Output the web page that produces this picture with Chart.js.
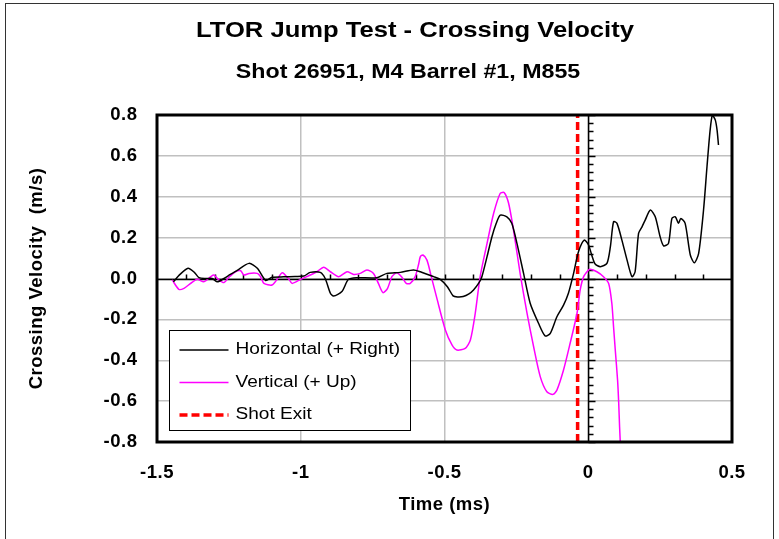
<!DOCTYPE html>
<html>
<head>
<meta charset="utf-8">
<script src="https://cdn.jsdelivr.net/npm/chart.js@4"></script>
<style>
  html, body { margin: 0; padding: 0; background: #fff; }
  #wrap { width: 779px; height: 539px; }
</style>
</head>
<body>
<div id="wrap"><canvas id="chart" width="779" height="539"></canvas></div>
<script>
// Horizontal crossing velocity (+ right)
const hTime = [-1.443, -1.42, -1.392, -1.37, -1.354, -1.33, -1.308, -1.29, -1.267, -1.245, -1.221, -1.18, -1.151, -1.122, -1.1, -1.06, -1.02, -0.989,
  -0.967, -0.932, -0.915, -0.897, -0.886, -0.857, -0.834, -0.805, -0.735, -0.7, -0.654, -0.608, -0.584, -0.538, -0.515, -0.49, -0.47, -0.455,
  -0.435, -0.415, -0.399, -0.381, -0.37, -0.352, -0.335, -0.32, -0.306, -0.283, -0.266, -0.248, -0.225, -0.202, -0.173, -0.15, -0.132, -0.109,
  -0.086, -0.069, -0.051, -0.034, -0.014, 0.001, 0.012, 0.024, 0.042, 0.065, 0.077, 0.088, 0.1, 0.117, 0.135, 0.152, 0.163, 0.175, 0.187, 0.198,
  0.216, 0.233, 0.25, 0.262, 0.279, 0.291, 0.303, 0.314, 0.322, 0.337, 0.355, 0.369, 0.384, 0.401, 0.413, 0.424, 0.432, 0.442, 0.448, 0.453];
const hVel = [-0.016, 0.02, 0.05, 0.03, 0.004, 0.0, 0.0, -0.016, 0.0, 0.02, 0.04, 0.074, 0.05, -0.01, 0.006, 0.008, 0.01, 0.012,
  0.03, 0.03, 0.0, -0.072, -0.086, -0.064, -0.004, 0.004, 0.004, 0.025, 0.03, 0.042, 0.033, 0.009, -0.004, -0.04, -0.085, -0.09,
  -0.088, -0.075, -0.056, -0.023, 0.009, 0.107, 0.204, 0.27, 0.31, 0.302, 0.27, 0.172, 0.025, -0.121, -0.219, -0.281, -0.268, -0.187,
  -0.13, -0.072, 0.025, 0.131, 0.188, 0.164, 0.115, 0.071, 0.058, 0.074, 0.156, 0.278, 0.27, 0.188, 0.09, 0.009, 0.033, 0.221, 0.253, 0.286,
  0.335, 0.302, 0.204, 0.16, 0.172, 0.294, 0.302, 0.27, 0.294, 0.27, 0.115, 0.077, 0.123, 0.335, 0.547, 0.727, 0.8, 0.775, 0.727, 0.653];

// Vertical crossing velocity (+ up)
const vTime = [-1.447, -1.424, -1.406, -1.383, -1.36, -1.337, -1.313, -1.302, -1.285, -1.267, -1.25, -1.227, -1.209, -1.198, -1.18, -1.151, -1.14,
  -1.128, -1.1, -1.08, -1.064, -1.041, -1.03, -1.0, -0.967, -0.944, -0.92, -0.897, -0.868, -0.839, -0.816, -0.793, -0.77, -0.747, -0.73, -0.714,
  -0.698, -0.683, -0.666, -0.648, -0.633, -0.619, -0.602, -0.59, -0.584, -0.575, -0.561, -0.547, -0.526, -0.497, -0.474, -0.457, -0.428, -0.41,
  -0.393, -0.376, -0.352, -0.329, -0.306, -0.292, -0.277, -0.26, -0.237, -0.213, -0.19, -0.167, -0.144, -0.123, -0.109, -0.086, -0.063, -0.039,
  -0.028, -0.016, 0.001, 0.007, 0.03, 0.053, 0.071, 0.082, 0.088, 0.094, 0.102, 0.106, 0.109, 0.113];
const vVel = [-0.007, -0.053, -0.048, -0.024, -0.004, -0.016, 0.009, 0.017, -0.007, -0.02, 0.006, 0.033, 0.038, 0.017, 0.025, 0.025, 0.009,
  -0.024, -0.032, 0.0, 0.028, -0.004, -0.024, -0.004, 0.017, 0.033, 0.055, 0.033, 0.009, 0.033, 0.02, 0.025, 0.042, 0.025, -0.024, -0.069,
  -0.048, 0.009, 0.028, 0.006, -0.024, -0.024, 0.009, 0.07, 0.107, 0.115, 0.09, 0.015, -0.1, -0.252, -0.325, -0.35, -0.342, -0.301,
  -0.17, 0.009, 0.172, 0.319, 0.417, 0.42, 0.368, 0.237, 0.025, -0.17, -0.334, -0.48, -0.554, -0.567, -0.546, -0.448, -0.317, -0.17,
  -0.056, 0.009, 0.042, 0.045, 0.033, 0.009, -0.024, -0.121, -0.236, -0.35, -0.497, -0.611, -0.725, -0.85];

// Muzzle exit time (ms)
const shotExit = -0.037;

const xTicks = [-1.5, -1, -0.5, 0, 0.5];
const yRange = [-0.8, 0.8];

const title = 'LTOR Jump Test - Crossing Velocity';
const subtitle = 'Shot 26951, M4 Barrel #1, M855';

const FONT = "'Liberation Sans', Arial, sans-serif";
const WIDE = 1.19; // text in this chart is drawn a bit wider than normal
const pts = (xs, ys) => xs.map((x, i) => ({ x, y: ys[i] }));

function wideText(ctx, text, x, y, align) {
  ctx.save();
  ctx.translate(x, y);
  ctx.scale(WIDE, 1);
  ctx.textAlign = align;
  ctx.fillText(text, 0, 0);
  ctx.restore();
}

// Excel-style axes crossing at the origin, with minor ticks
const crossAxes = {
  id: 'crossAxes',
  beforeDatasetsDraw(chart) {
    const { ctx, chartArea: a, scales: { x, y } } = chart;
    const x0 = Math.round(x.getPixelForValue(0)) + 0.5, y0 = Math.round(y.getPixelForValue(0)) + 0.5;
    ctx.save();
    ctx.strokeStyle = '#000';
    ctx.lineWidth = 1.5;
    ctx.beginPath();
    ctx.moveTo(a.left, y0); ctx.lineTo(a.right, y0);
    ctx.moveTo(x0, a.top); ctx.lineTo(x0, a.bottom);
    ctx.stroke();
    ctx.beginPath();
    for (let i = -20; i <= 20; i++) {
      const py = Math.round(y.getPixelForValue(i * 0.04)) + 0.5;
      ctx.moveTo(x0, py); ctx.lineTo(x0 + (i % 5 === 0 ? 7 : 5), py);
    }
    for (let i = -14; i <= 4; i++) {
      const px = Math.round(x.getPixelForValue(i * 0.1)) + 0.5;
      ctx.moveTo(px, y0); ctx.lineTo(px, y0 - 5);
    }
    ctx.stroke();
    ctx.restore();
  },
  afterDatasetsDraw(chart) {
    const { ctx, chartArea: a } = chart;
    ctx.save();
    ctx.strokeStyle = '#000';
    ctx.lineWidth = 3;
    ctx.strokeRect(a.left, a.top, a.right - a.left, a.bottom - a.top);
    ctx.restore();
  }
};

// boxed legend inside the plot, lower left
const boxLegend = {
  id: 'boxLegend',
  afterDraw(chart) {
    const { ctx, chartArea: a } = chart;
    const bx = a.left + 12.5, by = a.top + 215.5, bw = 241, bh = 100;
    ctx.save();
    ctx.letterSpacing = '0px';
    ctx.fillStyle = '#fff';
    ctx.fillRect(bx, by, bw, bh);
    ctx.strokeStyle = '#000';
    ctx.lineWidth = 1;
    ctx.strokeRect(bx, by, bw, bh);
    ctx.font = '16px ' + FONT;
    ctx.textBaseline = 'middle';
    chart.data.datasets.forEach((ds, i) => {
      const ry = by + 19.5 + i * 32.5;
      ctx.strokeStyle = ds.borderColor;
      ctx.lineWidth = ds.borderWidth;
      ctx.setLineDash(ds.borderDash || []);
      ctx.beginPath();
      ctx.moveTo(bx + 10, ry); ctx.lineTo(bx + 59, ry);
      ctx.stroke();
      ctx.setLineDash([]);
      ctx.fillStyle = '#000';
      wideText(ctx, ds.label, bx + 66, ry, 'left');
    });
    ctx.restore();
  }
};

// outer frame of the chart object and the two title lines
const frameTitles = {
  id: 'frameTitles',
  beforeDraw(chart) {
    const { ctx } = chart;
    ctx.fillStyle = '#fff';
    ctx.fillRect(0, 0, chart.width, chart.height);
    ctx.strokeStyle = '#333';
    ctx.lineWidth = 1;
    ctx.strokeRect(5.5, 3.5, 768, 600);
    ctx.letterSpacing = '0px';
    ctx.fillStyle = '#000';
    ctx.textBaseline = 'middle';
    ctx.font = 'bold 21.5px ' + FONT;
    wideText(ctx, title, 415, 31, 'center');
    ctx.font = 'bold 19.5px ' + FONT;
    wideText(ctx, subtitle, 408, 73, 'center');
    // axis text is set slightly looser than the default
    ctx.letterSpacing = '0.5px';
  }
};

const axisFont = { family: FONT, size: 18.5, weight: 'bold' };

new Chart(document.getElementById('chart'), {
  type: 'line',
  data: {
    datasets: [
      { label: 'Horizontal (+ Right)', data: pts(hTime, hVel), borderColor: '#000000', borderWidth: 1.5, pointRadius: 0, tension: 0.25 },
      { label: 'Vertical (+ Up)', data: pts(vTime, vVel), borderColor: '#ff00ff', borderWidth: 1.5, pointRadius: 0, tension: 0.25 },
      { label: 'Shot Exit', data: pts([shotExit, shotExit], yRange), borderColor: '#ff0000', borderWidth: 3.5, borderDash: [8, 4], pointRadius: 0 }
    ]
  },
  options: {
    responsive: false,
    animation: false,
    layout: { padding: { left: 0, right: 47, top: 115, bottom: 0 } },
    plugins: {
      legend: { display: false },
      tooltip: { enabled: false }
    },
    scales: {
      x: {
        type: 'linear', min: xTicks[0], max: xTicks[xTicks.length - 1],
        afterBuildTicks: s => { s.ticks = xTicks.map(v => ({ value: v })); },
        afterFit: s => { s.height = 97; },
        grid: { color: '#c0c0c0', lineWidth: 1.5, drawTicks: false },
        border: { display: false },
        ticks: { color: '#000', padding: 20, font: axisFont, callback: v => String(v) },
        title: { display: true, text: 'Time (ms)', color: '#000', padding: { top: 0, bottom: 23 }, font: { family: FONT, size: 18.5, weight: 'bold' } }
      },
      y: {
        min: yRange[0], max: yRange[1],
        afterFit: s => { s.width = 157; },
        grid: { color: '#c0c0c0', lineWidth: 1.5, drawTicks: false },
        border: { display: false },
        ticks: { stepSize: 0.2, color: '#000', padding: 19.5, font: axisFont, callback: v => v.toFixed(1) },
        title: { display: true, text: 'Crossing Velocity  (m/s)', color: '#000', padding: { top: 26, bottom: 0 }, font: { family: FONT, size: 18.5, weight: 'bold' } }
      }
    }
  },
  plugins: [frameTitles, crossAxes, boxLegend]
});
</script>
</body>
</html>
